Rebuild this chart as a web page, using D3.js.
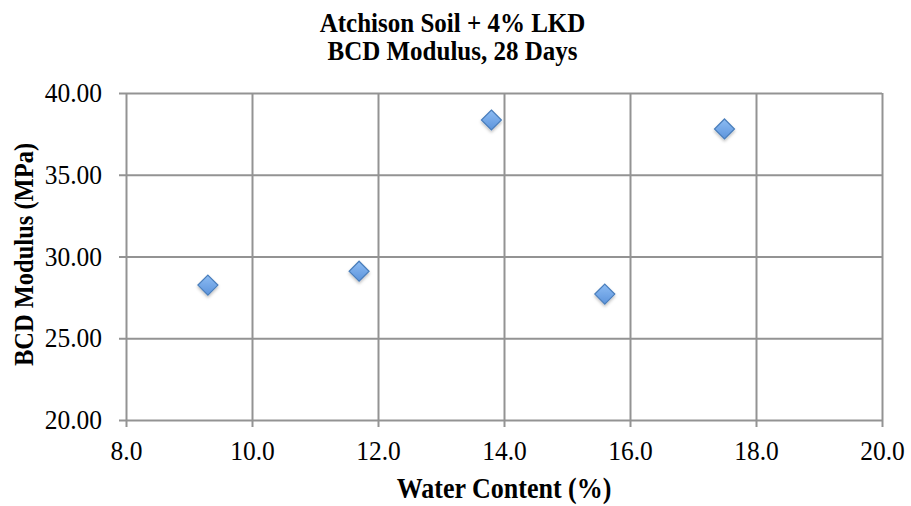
<!DOCTYPE html>
<html>
<head>
<meta charset="utf-8">
<script src="https://cdn.jsdelivr.net/npm/d3@7"></script>
<style>
  html, body { margin: 0; padding: 0; background: #fff; }
  svg { display: block; }
</style>
</head>
<body>
<div id="chart"></div>
<script>
// ---- data ----
const waterContent = [9.3, 11.7, 13.8, 15.6, 17.5];
const bcdModulus   = [28.25, 29.1, 38.35, 27.7, 37.8];
const xTicks = [8, 10, 12, 14, 16, 18, 20];
const yTicks = [20, 25, 30, 35, 40];
const titleLines = ["Atchison Soil + 4% LKD", "BCD Modulus, 28 Days"];
const xTitle = "Water Content (%)";
const yTitle = "BCD Modulus (MPa)";

const W = 911, H = 506;
const margin = { left: 126, right: 29, top: 93, bottom: 86 };
const plotW = W - margin.left - margin.right;
const plotH = H - margin.top - margin.bottom;

const svg = d3.select("#chart").append("svg").attr("width", W).attr("height", H);

const defs = svg.append("defs");
const grad = defs.append("linearGradient").attr("id", "mk").attr("x1", 0).attr("y1", 0).attr("x2", 0).attr("y2", 1);
grad.append("stop").attr("offset", "0%").attr("stop-color", "#8dbcf3");
grad.append("stop").attr("offset", "100%").attr("stop-color", "#5c94dc");
const f = defs.append("filter").attr("id", "sh").attr("x", "-50%").attr("y", "-50%").attr("width", "200%").attr("height", "200%");
f.append("feDropShadow").attr("dx", 0).attr("dy", 2).attr("stdDeviation", 1.5).attr("flood-color", "#000").attr("flood-opacity", 0.25);

const x = d3.scaleLinear().domain([8, 20]).range([margin.left, margin.left + plotW]);
const y = d3.scaleLinear().domain([20, 40]).range([margin.top + plotH, margin.top]);

const gridColor = "#939393";
const font = "'Liberation Serif', 'Times New Roman', serif";
const vs = 1.1; // glyphs in the reference are slightly taller than wide

// horizontal gridlines via axis
const yAxis = d3.axisLeft(y).tickValues(yTicks).tickFormat(d3.format(".2f"))
  .tickSize(-(plotW + 7)).tickPadding(16);
const gy = svg.append("g").attr("transform", `translate(${margin.left - 7},0)`).call(yAxis);
gy.select(".domain").remove();
gy.selectAll(".tick line").attr("stroke", gridColor).attr("stroke-width", 2);
gy.selectAll(".tick text").attr("font-family", font).attr("font-size", 25.5).attr("fill", "#000")
  .attr("x", null).attr("dy", null)
  .attr("transform", `translate(-17,8.5) scale(1,${vs})`);

// vertical gridlines via axis
const xAxis = d3.axisBottom(x).tickValues(xTicks).tickFormat(d3.format(".1f"))
  .tickSize(-plotH).tickPadding(0);
const gx = svg.append("g").attr("transform", `translate(0,${margin.top + plotH})`).call(xAxis);
gx.select(".domain").remove();
gx.selectAll(".tick line").attr("stroke", gridColor).attr("stroke-width", 2).attr("y1", 7);
gx.selectAll(".tick text").attr("font-family", font).attr("font-size", 25.5).attr("fill", "#000")
  .attr("y", null).attr("dy", null)
  .attr("transform", `translate(0,40) scale(1,${vs})`);

// markers
const sz = 10;
svg.append("g").selectAll("path").data(waterContent.map((d, i) => [d, bcdModulus[i]]))
  .join("path")
  .attr("d", `M0,${-sz}L${sz},0L0,${sz}L${-sz},0Z`)
  .attr("transform", d => `translate(${x(d[0])},${y(d[1])})`)
  .attr("fill", "url(#mk)")
  .attr("stroke", "#4a7ebb").attr("stroke-width", 1.2)
  .attr("filter", "url(#sh)");

// title
svg.append("g").selectAll("text").data(titleLines).join("text")
  .attr("transform", (d, i) => `translate(${W / 2 - 3},${32 + i * 28}) scale(1,1.05)`)
  .attr("text-anchor", "middle").attr("font-family", font).attr("font-weight", "bold")
  .attr("font-size", 25).text(d => d);

// x title
svg.append("text")
  .attr("transform", `translate(${margin.left + plotW / 2},498) scale(1,${vs})`)
  .attr("text-anchor", "middle").attr("font-family", font).attr("font-weight", "bold")
  .attr("font-size", 26).text(xTitle);

// y title
svg.append("text").attr("transform", `translate(33,${margin.top + plotH / 2 - 2}) rotate(-90) scale(1,${vs})`)
  .attr("text-anchor", "middle").attr("font-family", font).attr("font-weight", "bold")
  .attr("font-size", 24.5).text(yTitle);
</script>
</body>
</html>
